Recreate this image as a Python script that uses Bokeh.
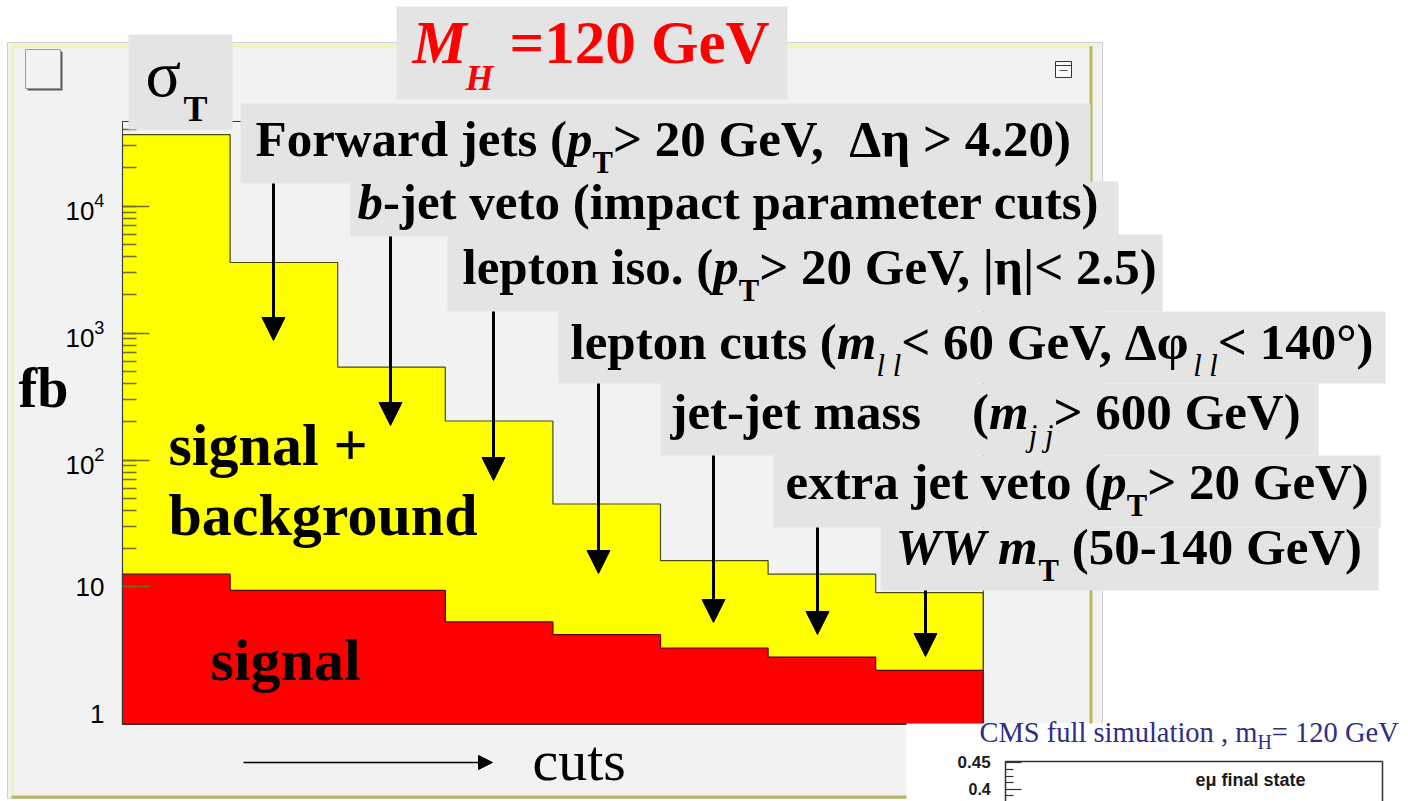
import numpy as np
from bokeh.plotting import figure
from bokeh.models import (Range1d, Label, BoxAnnotation, Arrow, NormalHead,
                          LogTickFormatter)
from bokeh.embed import file_html
from bokeh.resources import INLINE

# ---------------------------------------------------------------------------
# Cut flow for VBF H -> WW -> l nu l nu, M_H = 120 GeV (cross sections in fb)
# one bin per selection step
cut_steps = ["preselection", "forward jets", "b-jet veto", "lepton iso.",
             "lepton cuts", "jet-jet mass", "extra jet veto", "WW mT"]
sigma_sig_bkg = [36700, 3600, 540, 203, 45, 16.1, 12.6, 9.0]
sigma_signal = [12.6, 9.4, 9.4, 5.3, 4.2, 3.3, 2.8, 2.2]

# ---------------------------------------------------------------------------
W, H = 1408, 801
SERIF = "Liberation Serif"
SANS = "Liberation Sans"

# histogram frame geometry on the canvas
FRAME_LEFT_PX = 122.0
BIN_PX = 107.6
TEN_PX = 586.4        # vertical canvas position of 10 fb
DECADE_PX = 126.9     # pixels per decade
Y_MIN, Y_MAX = 0.83, 4.65e4

x_range = Range1d(-FRAME_LEFT_PX / BIN_PX, (W - FRAME_LEFT_PX) / BIN_PX)
y_range = Range1d(10 ** (1 - (H - TEN_PX) / DECADE_PX),
                  10 ** (1 + TEN_PX / DECADE_PX))

p = figure(width=W, height=H, x_range=x_range, y_range=y_range,
           y_axis_type="log", output_backend="svg", toolbar_location=None,
           min_border=0)
p.title.visible = False
p.xaxis.visible = False
p.grid.visible = False
p.outline_line_color = None
p.background_fill_color = "white"
p.border_fill_color = "white"


# ---------------------------------------------------------------------------
# helpers working in canvas pixels (origin top-left)
def px_box(x0, y0, x1, y1, fill, line=None, lw=1.0, level="annotation"):
    p.add_layout(BoxAnnotation(
        left=x0, right=x1, top=H - y0, bottom=H - y1,
        left_units="screen", right_units="screen",
        top_units="screen", bottom_units="screen",
        fill_color=fill, fill_alpha=1.0,
        line_color=line, line_alpha=1.0, line_width=lw, level=level))


def seg(x0, y0, x1, y1, color="black", lw=1.0, head=None):
    p.add_layout(Arrow(x_start=x0, y_start=H - y0, x_end=x1, y_end=H - y1,
                       start_units="screen", end_units="screen",
                       line_color=color, line_width=lw, end=head))


# labels are anchored on their baseline; the renderer sits text slightly
# below the anchor, so lift it by a fraction of the font size
BASELINE_LIFT = 0.37


def text(x, y, s, size, style="bold", color="black", font=SERIF, align="left"):
    p.add_layout(Label(x=x, y=H - (y - BASELINE_LIFT * size),
                       x_units="screen", y_units="screen",
                       text=s, text_font=font, text_font_style=style,
                       text_font_size=f"{size:.1f}px", text_color=color,
                       text_align=align, text_baseline="alphabetic"))


# Times-style advance widths (1/1000 em) used to chain rich-text segments
TB = {' ': 250, '\u00a0': 250, '(': 333, ')': 333, '+': 570, ',': 250,
      '-': 333, '.': 250, '<': 570, '=': 570, '>': 570, '|': 220, '°': 400,
      'A': 722, 'C': 722, 'F': 611, 'G': 778, 'H': 778, 'M': 944, 'S': 556,
      'T': 667, 'V': 722, 'W': 1000,
      'a': 500, 'b': 556, 'c': 444, 'd': 556, 'e': 444, 'f': 333, 'g': 500,
      'h': 556, 'i': 278, 'j': 333, 'k': 556, 'l': 278, 'm': 833, 'n': 556,
      'o': 500, 'p': 556, 'r': 444, 's': 389, 't': 333, 'u': 556, 'v': 500,
      'w': 722, 'x': 500, 'y': 500,
      'Δ': 612, 'η': 556, 'φ': 600, 'μ': 556}
TBI = {'b': 500, 'p': 500, 'm': 778, 'M': 889, 'H': 778, 'W': 889, 'T': 611}
TI = {'l': 278, 'j': 278}
TR = {'C': 667, 'M': 889, 'S': 556, 'H': 722, 'G': 722, 'V': 722, 'f': 333,
      'u': 500, 'l': 278, 's': 389, 'i': 278, 'm': 778, 'a': 444, 't': 278,
      'o': 500, 'n': 500, '=': 564}


def advance(s, style):
    total = 0
    for ch in s:
        if ch.isdigit():
            total += 500
        elif style == "italic" and ch in TI:
            total += TI[ch]
        elif "italic" in style and ch in TBI:
            total += TBI[ch]
        elif style == "normal" and ch in TR:
            total += TR[ch]
        else:
            total += TB.get(ch, 500)
    return total


SUB_SCALE = 0.6
SUB_DROP = 17


def rich(x, y, segs, size, color="black", font=SERIF,
         sub_scale=SUB_SCALE, sub_drop=SUB_DROP):
    cx = x
    for s, style, *sub in segs:
        fs = size * (sub_scale if sub else 1.0)
        text(cx, y + (sub_drop if sub else 0), s, fs, style, color, font)
        cx += advance(s, style) * fs / 1000.0


# ---------------------------------------------------------------------------
# canvas pad with bevelled border
px_box(7, 42, 1102, 798, "#f2f2f2", "#cfcfcf", 1, level="image")
px_box(11, 44, 1093, 47, "#f2f2b4", None, level="image")
px_box(11, 44, 13, 798, "#f2f2b4", None, level="image")
px_box(1089, 46, 1092, 798, "#b8b858", None, level="image")
px_box(11, 795, 1092, 798, "#b8b858", None, level="image")

# ---------------------------------------------------------------------------
# stacked step histograms
def step_polygon(values):
    xs, ys = [0], [Y_MIN]
    for i, v in enumerate(values):
        xs += [i, i + 1]
        ys += [v, v]
    xs.append(len(values))
    ys.append(Y_MIN)
    return xs, ys


xs_sb, ys_sb = step_polygon(sigma_sig_bkg)
xs_s, ys_s = step_polygon(sigma_signal)
p.patch(xs_sb, ys_sb, fill_color="#ffff00", line_color="#4a4a10",
        line_width=1.2)
red = p.patch(xs_s, ys_s, fill_color="#ff0000", line_color="#5a0000",
              line_width=1.2)
red.level = "guide"

# logarithmic y axis drawn on the left frame edge (decades 10 .. 10^4)
ax = p.yaxis[0]
ax.fixed_location = 0
ax.bounds = (9.99, Y_MAX)
ax.formatter = LogTickFormatter(min_exponent=2)
ax.major_label_text_font = SANS
ax.major_label_text_font_size = "26px"
ax.major_label_text_color = "black"
ax.major_label_standoff = 18
ax.major_tick_in = 27
ax.major_tick_out = 0
ax.minor_tick_in = 14
ax.minor_tick_out = 0
ax.major_tick_line_color = "#6e6e28"
ax.minor_tick_line_color = "#6e6e28"
ax.major_tick_line_width = 1.3
ax.minor_tick_line_width = 1.3
ax.axis_line_color = "#3a3a3a"

# lowest decade label, below the axis bounds
one_px = TEN_PX + DECADE_PX
text(FRAME_LEFT_PX - 18, one_px + 9.5, "1", 26, "normal", "black", SANS,
     align="right")

# frame around the histogram area
p.add_layout(BoxAnnotation(left=0, right=len(sigma_sig_bkg), bottom=Y_MIN,
                           top=Y_MAX, fill_color=None, line_color="#3c3c3c",
                           line_alpha=1.0, line_width=1))

# ---------------------------------------------------------------------------
# small widgets of the pad
px_box(27, 51, 62, 90, "#5a5a5a", None)
px_box(25, 49, 60, 88, "#f2f2f2", "#9a9a9a", 1)
px_box(1055, 61, 1071, 77, "#fafafa", "#333333", 1)
seg(1055, 65, 1071, 65, "#333333", 1)
seg(1059, 70, 1067, 70, "#555555", 1)

# ---------------------------------------------------------------------------
# grey caption boxes
GREY = "#e4e4e4"
px_box(128, 34, 232, 129, GREY)
px_box(396, 6, 787, 99, GREY)
px_box(240, 103, 1090, 183, GREY)
px_box(350, 181, 1118, 236, GREY)
px_box(447, 234, 1162, 311, GREY)
px_box(558, 311, 1385, 383, GREY)
px_box(660, 383, 1318, 455, GREY)
px_box(773, 455, 1380, 527, GREY)
px_box(880, 527, 1378, 590, GREY)

# title-like captions
text(145, 97, "σ", 66, "normal")
text(183, 122, "T", 36, "bold")
text(412, 65, "M", 61, "bold italic", "#ff0000")
text(465, 91, "H", 36, "bold italic", "#ff0000")
text(509, 65, "=120 GeV", 61, "bold", "#ff0000")

# selection steps
SZ = 51
rich(255, 157, [("Forward jets (", "bold"), ("p", "bold italic"),
                ("T", "bold", 1), ("> 20 GeV,\u00a0 Δη > 4.20)", "bold")], SZ)
rich(357, 220, [("b", "bold italic"),
                ("-jet veto (impact parameter cuts)", "bold")], SZ)
rich(462, 285, [("lepton iso. (", "bold"), ("p", "bold italic"),
                ("T", "bold", 1), ("> 20 GeV, |η|< 2.5)", "bold")], SZ)
rich(570, 360, [("lepton cuts (", "bold"), ("m", "bold italic"),
                ("l l", "italic", 1), ("< 60 GeV, Δφ", "bold"),
                ("l l", "italic", 1), ("< 140°)", "bold")], SZ)
rich(670, 430, [("jet-jet mass\u00a0\u00a0\u00a0 (", "bold"),
                ("m", "bold italic"), ("j j", "italic", 1),
                ("> 600 GeV)", "bold")], SZ)
rich(785, 500, [("extra jet veto (", "bold"), ("p", "bold italic"),
                ("T", "bold", 1), ("> 20 GeV)", "bold")], SZ)
rich(895, 565, [("WW m", "bold italic"), ("T", "bold", 1),
                ("\u00a0(50-140 GeV)", "bold")], SZ)

# arrows from each step to its bin
arrow_px = [(273, 183, 340), (390, 236, 425), (493, 311, 480),
            (598, 383, 573), (713, 455, 622), (817, 527, 634),
            (925, 590, 656)]
for ax_x, y0, y1 in arrow_px:
    seg(ax_x, y0, ax_x, y1, "black", 3,
        NormalHead(size=23, fill_color="black", line_color="black"))

# region labels and axis titles
text(168, 467, "signal +", 60, "bold")
text(168, 537, "background", 60, "bold")
text(210, 682, "signal", 60, "bold")
text(18, 408, "fb", 56, "bold")
text(532, 781, "cuts", 58, "normal")
seg(243, 762, 492, 762, "black", 1.6,
    NormalHead(size=14, fill_color="black", line_color="black"))

# ---------------------------------------------------------------------------
# neighbouring panel peeking in at the bottom right
px_box(906, 723, 1408, 801, "white")
rich(979, 743, [("CMS full simulation , m", "normal"), ("H", "normal", 1),
                ("= 120 GeV", "normal")], 28.5, color="#2e2e86",
     sub_scale=0.7, sub_drop=6)
text(957, 768, "0.45", 17, "bold", "#1a1a1a", SANS)
text(968, 794, "0.4", 16, "bold", "#1a1a1a", SANS)
text(1195, 786, "eμ final state", 18, "bold", "#1a1a1a", SANS)
px_box(1005, 761, 1382, 840, None, "#333333", 1.5)
for ty, tl in [(762, 16), (769, 8), (776, 8), (782, 8), (789, 16), (795, 8)]:
    seg(1005, ty, 1005 + tl, ty, "#333333", 1.2)

open("out.html", "w").write(file_html(p, INLINE))
